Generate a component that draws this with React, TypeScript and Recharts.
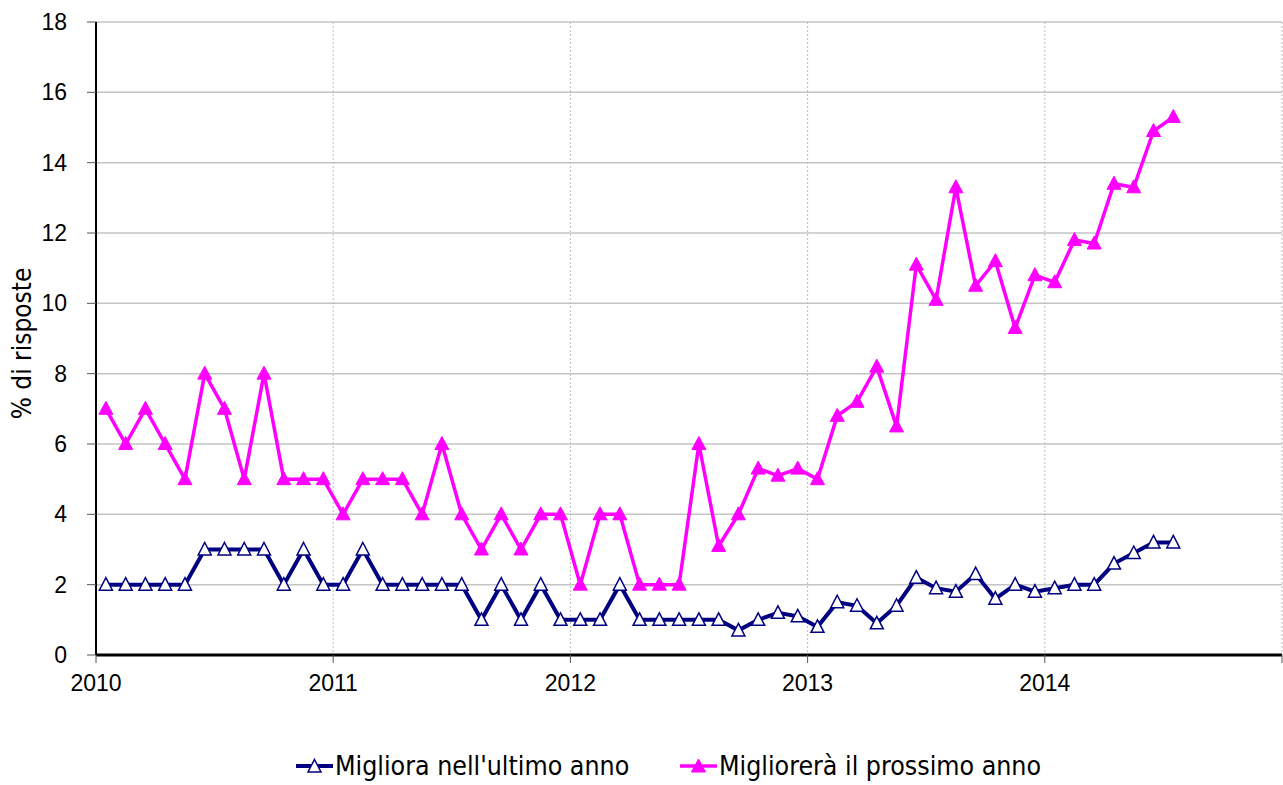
import { LineChart, Line, XAxis, YAxis, CartesianGrid, Label } from 'recharts';

// monthly series, Jan 2010 -> Jul 2014
const miglioraUltimoAnno = [
    2, 2, 2, 2, 2, 3, 3, 3, 3, 2, 3, 2,
    2, 3, 2, 2, 2, 2, 2, 1, 2, 1, 2, 1,
    1, 1, 2, 1, 1, 1, 1, 1, 0.7, 1.0, 1.2, 1.1,
    0.8, 1.5, 1.4, 0.9, 1.4, 2.2, 1.9, 1.8, 2.3, 1.6, 2.0, 1.8,
    1.9, 2.0, 2.0, 2.6, 2.9, 3.2, 3.2,
];

const miglioreraProssimoAnno = [
    7, 6, 7, 6, 5, 8, 7, 5, 8, 5, 5, 5,
    4, 5, 5, 5, 4, 6, 4, 3, 4, 3, 4, 4,
    2, 4, 4, 2, 2, 2, 6, 3.1, 4, 5.3, 5.1, 5.3,
    5.0, 6.8, 7.2, 8.2, 6.5, 11.1, 10.1, 13.3, 10.5, 11.2, 9.3, 10.8,
    10.6, 11.8, 11.7, 13.4, 13.3, 14.9, 15.3,
];

const years = ['2010', '2011', '2012', '2013', '2014', '2015'];
const yTicks = [0, 2, 4, 6, 8, 10, 12, 14, 16, 18];

const SERIES_1 = "Migliora nell'ultimo anno";
const SERIES_2 = 'Migliorerà il prossimo anno';

const NAVY = '#000080';
const MAGENTA = '#FF00FF';
const NARROW = '"DejaVu Sans Condensed", sans-serif';
const TICK_FONT = '"Liberation Sans", Arial, sans-serif';

// month t sits in the middle of its month slot
const data = miglioraUltimoAnno.map((v, i) => ({
    t: i + 0.5,
    ultimo: v,
    prossimo: miglioreraProssimoAnno[i],
}));

const yearTicks = years.map((_, i) => i * 12);

const OpenTriangle = ({ cx, cy }: any) => (
    <polygon
        points={`${cx},${cy - 7} ${cx + 6.5},${cy + 5.5} ${cx - 6.5},${cy + 5.5}`}
        fill="#fff"
        stroke={NAVY}
        strokeWidth={1.5}
    />
);

const FilledTriangle = ({ cx, cy }: any) => (
    <polygon
        points={`${cx},${cy - 7.5} ${cx + 7},${cy + 5.5} ${cx - 7},${cy + 5.5}`}
        fill={MAGENTA}
        stroke={MAGENTA}
        strokeWidth={1}
    />
);

const tickFormatX = (v: number) => (v >= 60 ? '' : years[v / 12]);

const YTitle = ({ viewBox }: any) => {
    const cy = viewBox.y + viewBox.height / 2 + 5;
    const cx = 22;
    return (
        <text
            x={cx}
            y={cy}
            transform={`rotate(-90, ${cx}, ${cy})`}
            textAnchor="middle"
            dominantBaseline="central"
            fill="#000"
            fontFamily={NARROW}
            fontSize={26}
        >
            % di risposte
        </text>
    );
};

const LegendItem = ({ label, filled, color, left }: { label: string; filled: boolean; color: string; left: number }) => (
    <div style={{ position: 'absolute', left, top: 752, display: 'flex', alignItems: 'center', height: 28 }}>
        <svg width={39} height={20}>
            <line x1={0} y1={10} x2={37} y2={10} stroke={color} strokeWidth={filled ? 3.5 : 4} />
            {filled ? <FilledTriangle cx={18.5} cy={10.5} /> : <OpenTriangle cx={18.5} cy={10.5} />}
        </svg>
        <span style={{ fontFamily: NARROW, fontSize: 26.5, color: '#000', lineHeight: '28px' }}>{label}</span>
    </div>
);

export default function App() {
    return (
        <div style={{ position: 'absolute', left: 0, top: 0, width: 1283, height: 785, background: '#fff' }}>
            <LineChart width={1283} height={785} data={data} margin={{ top: 22, right: 1, left: 0, bottom: 90 }}>
                <CartesianGrid horizontal vertical={false} stroke="#c4c4c4" strokeWidth={1.5} />
                <CartesianGrid horizontal={false} vertical stroke="#bdbdbd" strokeDasharray="2 2" />
                <XAxis
                    type="number"
                    dataKey="t"
                    domain={[0, 60]}
                    ticks={yearTicks}
                    tickFormatter={tickFormatX}
                    height={40}
                    axisLine={{ stroke: '#000', strokeWidth: 3 }}
                    tickLine={{ stroke: '#555' }}
                    tickSize={8}
                    tickMargin={12}
                    tick={{ fill: '#000', fontSize: 23, fontFamily: TICK_FONT }}
                    interval={0}
                />
                <YAxis
                    domain={[0, 18]}
                    ticks={yTicks}
                    width={96}
                    axisLine={{ stroke: '#000', strokeWidth: 2 }}
                    tickLine={{ stroke: '#555' }}
                    tickSize={9}
                    tickMargin={20}
                    tick={{ fill: '#000', fontSize: 23, fontFamily: TICK_FONT }}
                    interval={0}
                >
                    <Label content={<YTitle />} />
                </YAxis>
                <Line
                    dataKey="ultimo"
                    name={SERIES_1}
                    stroke={NAVY}
                    strokeWidth={4}
                    dot={(p: any) => <OpenTriangle key={`u-${p.index}`} cx={p.cx} cy={p.cy} />}
                    activeDot={false}
                    isAnimationActive={false}
                />
                <Line
                    dataKey="prossimo"
                    name={SERIES_2}
                    stroke={MAGENTA}
                    strokeWidth={3.5}
                    dot={(p: any) => <FilledTriangle key={`p-${p.index}`} cx={p.cx} cy={p.cy} />}
                    activeDot={false}
                    isAnimationActive={false}
                />
            </LineChart>
            <LegendItem label={SERIES_1} filled={false} color={NAVY} left={296} />
            <LegendItem label={SERIES_2} filled color={MAGENTA} left={680} />
        </div>
    );
}
